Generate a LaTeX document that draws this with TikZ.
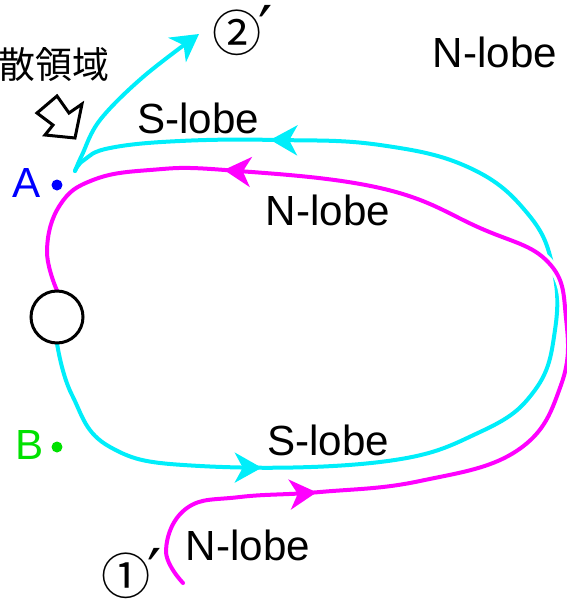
\documentclass[tikz,border=0pt]{standalone}
\usepackage{fontspec}
\setmainfont{Liberation Sans}
\newfontfamily\jpfont{Noto Sans CJK JP}
\newfontfamily\primefont{DejaVu Sans}
\usetikzlibrary{arrows.meta, decorations.markings}
\definecolor{slobe}{RGB}{0,238,250}
\definecolor{nlobe}{RGB}{255,0,255}
\definecolor{ablue}{RGB}{0,0,255}
\definecolor{bgreen}{RGB}{0,225,0}
\newcommand{\bigprime}{{\primefont\fontsize{36}{40}\selectfont ′}}

\begin{document}
\begin{tikzpicture}[x=0.02cm, y=-0.02cm,
    lab/.style={font=\fontsize{24}{28}\selectfont, inner sep=0pt},
    curve/.style={line width=0.08cm, line cap=round, line join=round},
    lobetip/.tip={Stealth[length=0.54cm, width=0.6cm, inset=0.16cm]},
    dot/.style={circle, fill, inner sep=0pt, minimum size=0.22cm},
    ring/.style={circle, inner sep=0pt, minimum size=1.04cm},
    numlab/.style={font=\fontsize{28}{32}\selectfont, inner sep=0pt, anchor=west}
  ]
    \useasboundingbox (0,0) rectangle (567,602);

    \node[ring] (hole) at (57,317) {};
    \coordinate (nstart) at (183,583);
    \coordinate (sturn)  at (75,171);
    \coordinate (send)   at (199,34);

    % S-lobe
    \draw[curve, slobe, postaction={decorate}, decoration={markings,
        mark=at position 0.222 with {\arrow{lobetip}},
        mark=at position 0.835 with {\arrow{lobetip}}}]
      plot[smooth, tension=0.7] coordinates {(hole.south) (72,395) (110,447) (200,466)
        (380,462) (480,432) (535,390) (555,330) (553,268) (528,214) (470,168)
        (380,145) (277,140) (180,141) (110,148) (84,160) (sturn)};
    \draw[curve, slobe, -{lobetip}]
      plot[smooth, tension=0.6] coordinates {(sturn) (82,155) (100,120) (143,77) (send)};

    % N-lobe
    \draw[curve, nlobe, preaction={draw=white, line width=0.2cm},
        postaction={decorate}, decoration={markings,
        mark=at position 0.176 with {\arrow{lobetip}},
        mark=at position 0.787 with {\arrow{lobetip}}}]
      plot[smooth, tension=0.7] coordinates {(nstart) (166,550) (187,508)
        (240,497) (320,492) (420,481) (518,450) (561,385) (566,318)
        (548,262) (480,228) (380,188) (225,170) (150,170) (93,180)
        (60,205) (47,250) (hole.north)};

    \draw[line width=0.06cm, fill=white] (hole) circle[radius=0.52cm];

    % region marker
    \node[font=\jpfont\fontsize{21}{24}\selectfont, anchor=east, inner sep=0pt] (region) at (110,65) {散領域};
    \draw[line width=0.06cm, line join=miter] (57,96) -- (69,113) -- (82,104) -- (75,138)
      -- (45,135) -- (53,125) -- (37,113) -- cycle;

    \node[lab] (slobetop) at (198,118) {S-lobe};
    \node[lab] (nlobemid) at (328,210) {N-lobe};
    \node[lab] (slobebot) at (328,440) {S-lobe};
    \node[lab] (nlobebot) at (248,545) {N-lobe};
    \node[lab] (nlobefar) at (495,52)  {N-lobe};

    \node[numlab] (two) at (212,31) {\jpfont ②\kern-2pt\bigprime};
    \node[numlab] (one) at (101,574) {\jpfont ①\kern-2pt\bigprime};

    \node[font=\fontsize{24}{28}\selectfont, text=ablue, inner sep=0pt] (alabel) at (27,183) {A};
    \node[dot, ablue] (adot) at (57,185) {};
    \node[font=\fontsize{24}{28}\selectfont, text=bgreen, inner sep=0pt] (blabel) at (30,445) {B};
    \node[dot, bgreen] (bdot) at (57,447) {};
  \end{tikzpicture}
\end{document}
